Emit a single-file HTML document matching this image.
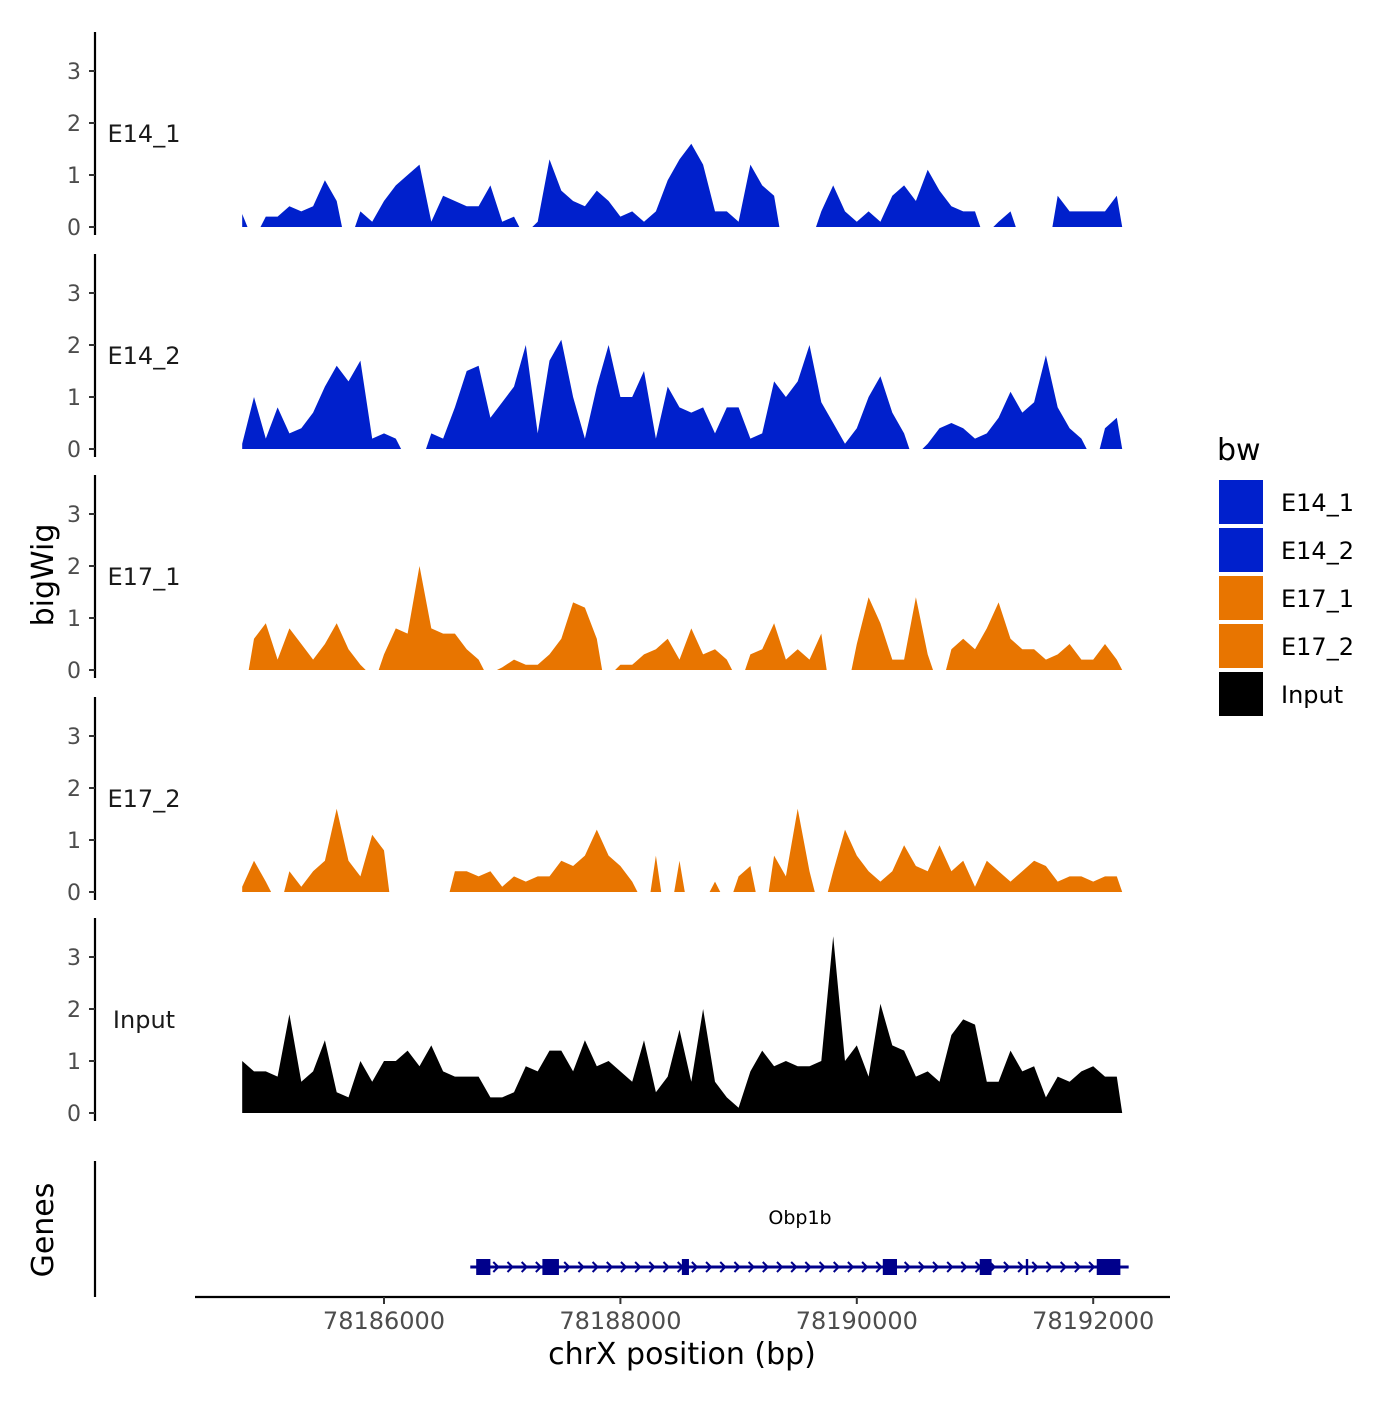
<!DOCTYPE html>
<html><head><meta charset="utf-8"><style>
body{margin:0;background:#fff}
svg text{font-family:"DejaVu Sans","Liberation Sans",sans-serif}
</style></head><body>
<svg id="c" width="1400" height="1400" viewBox="0 0 1400 1400" xmlns="http://www.w3.org/2000/svg"></svg>
<script>
const trackNames=["E14_1","E14_2","E17_1","E17_2","Input"];
const trackColors=["#0020CC","#0020CC","#E87500","#E87500","#000000"];
const bpStart=78184800, bpStep=100;
const xTicks=[78186000,78188000,78190000,78192000];
const yTicks=[0,1,2,3];
const N=null;
const e14_1=[0.25,N,0.2,0.2,0.4,0.3,0.4,0.9,0.5,N,0.3,0.1,0.5,0.8,1.0,1.2,0.1,0.6,0.5,0.4,0.4,0.8,0.1,0.2,N,0.1,1.3,0.7,0.5,0.4,0.7,0.5,0.2,0.3,0.1,0.3,0.9,1.3,1.6,1.2,0.3,0.3,0.1,1.2,0.8,0.6,N,N,N,0.3,0.8,0.3,0.1,0.3,0.1,0.6,0.8,0.5,1.1,0.7,0.4,0.3,0.3,N,0.1,0.3,N,N,N,0.6,0.3,0.3,0.3,0.3,0.6];
const e14_2=[0.1,1.0,0.2,0.8,0.3,0.4,0.7,1.2,1.6,1.3,1.7,0.2,0.3,0.2,N,N,0.3,0.2,0.8,1.5,1.6,0.6,0.9,1.2,2.0,0.3,1.7,2.1,1.0,0.2,1.2,2.0,1.0,1.0,1.5,0.2,1.2,0.8,0.7,0.8,0.3,0.8,0.8,0.2,0.3,1.3,1.0,1.3,2.0,0.9,0.5,0.1,0.4,1.0,1.4,0.7,0.3,N,0.1,0.4,0.5,0.4,0.2,0.3,0.6,1.1,0.7,0.9,1.8,0.8,0.4,0.2,N,0.4,0.6];
const e17_1=[N,0.6,0.9,0.2,0.8,0.5,0.2,0.5,0.9,0.4,0.1,N,0.3,0.8,0.7,2.0,0.8,0.7,0.7,0.4,0.2,N,0.05,0.2,0.1,0.1,0.3,0.6,1.3,1.2,0.6,N,0.1,0.1,0.3,0.4,0.6,0.2,0.8,0.3,0.4,0.2,N,0.3,0.4,0.9,0.2,0.4,0.2,0.7,N,N,0.5,1.4,0.9,0.2,0.2,1.4,0.3,N,0.4,0.6,0.4,0.8,1.3,0.6,0.4,0.4,0.2,0.3,0.5,0.2,0.2,0.5,0.2];
const e17_2=[0.1,0.6,0.2,N,0.4,0.1,0.4,0.6,1.6,0.6,0.3,1.1,0.8,N,N,N,N,N,0.4,0.4,0.3,0.4,0.1,0.3,0.2,0.3,0.3,0.6,0.5,0.7,1.2,0.7,0.5,0.2,N,0.7,N,0.6,N,N,0.2,N,0.3,0.5,N,0.7,0.3,1.6,0.4,N,0.4,1.2,0.7,0.4,0.2,0.4,0.9,0.5,0.4,0.9,0.4,0.6,0.1,0.6,0.4,0.2,0.4,0.6,0.5,0.2,0.3,0.3,0.2,0.3,0.3];
const input=[1.0,0.8,0.8,0.7,1.9,0.6,0.8,1.4,0.4,0.3,1.0,0.6,1.0,1.0,1.2,0.9,1.3,0.8,0.7,0.7,0.7,0.3,0.3,0.4,0.9,0.8,1.2,1.2,0.8,1.4,0.9,1.0,0.8,0.6,1.4,0.4,0.7,1.6,0.6,2.0,0.6,0.3,0.1,0.8,1.2,0.9,1.0,0.9,0.9,1.0,3.4,1.0,1.3,0.7,2.1,1.3,1.2,0.7,0.8,0.6,1.5,1.8,1.7,0.6,0.6,1.2,0.8,0.9,0.3,0.7,0.6,0.8,0.9,0.7,0.7];
const tracks=[e14_1,e14_2,e17_1,e17_2,input];
const exonStarts=[78186780,78187340,78188520,78190220,78191040,78191430,78192030];
const exonEnds=[78186900,78187480,78188580,78190340,78191140,78191450,78192230];
const geneStart=78186730, geneEnd=78192300;

const svg=document.getElementById('c');
const NS="http://www.w3.org/2000/svg";
function xs(bp){return 384+(bp-78186000)*0.1182;}
const zeros=[227,449,670,892,1113];
function ys(v,t){return zeros[t]-v*52;}
function mk(tag,attrs,parent){const e=document.createElementNS(NS,tag);for(const k in attrs)e.setAttribute(k,attrs[k]);(parent||svg).appendChild(e);return e;}
function txt(s,attrs){const e=mk('text',attrs);e.textContent=s;return e;}

tracks.forEach((arr,t)=>{
  const g=mk('g',{});
  
  
  let run=[];
  const flush=()=>{
    if(!run.length)return;
    const a=Math.max(bpStart,run[0][0]-45), b=run[run.length-1][0]+45;
    let d='M'+xs(a).toFixed(1)+','+zeros[t];
    run.forEach(p=>{d+='L'+xs(p[0]).toFixed(1)+','+ys(p[1],t).toFixed(1);});
    d+='L'+xs(b).toFixed(1)+','+zeros[t]+'Z';
    const p=mk('path',{d:d,fill:trackColors[t]},g);
    
    
    run=[];
  };
  arr.forEach((v,i)=>{const bp=bpStart+i*bpStep;if(v===null)flush();else run.push([bp,v]);});
  flush();
  const top=zeros[t]-195, bot=zeros[t]+8;
  const ax=mk('line',{x1:95,y1:top,x2:95,y2:bot,stroke:'#000','stroke-width':2.2});
  
  
  yTicks.forEach(v=>{
    mk('line',{x1:89,y1:ys(v,t),x2:95,y2:ys(v,t),stroke:'#333','stroke-width':2});
    const l=txt(String(v),{x:81,y:ys(v,t)+8,'text-anchor':'end','font-size':22,fill:'#4d4d4d'});
    
    
  });
  const lab=txt(trackNames[t],{x:144,y:zeros[t]-85,'text-anchor':'middle','font-size':24,fill:'#1a1a1a'});
  
  
});

mk('line',{x1:95,y1:1161,x2:95,y2:1297,stroke:'#000','stroke-width':2.2});
const gl=mk('line',{x1:xs(geneStart),y1:1267,x2:xs(geneEnd),y2:1267,stroke:'#00008B','stroke-width':3});


for(let bp=geneStart+100;bp<geneEnd-100;bp+=120){
  const x=xs(bp);
  mk('path',{d:`M${x-3},1262L${x+2},1267L${x-3},1272`,fill:'none',stroke:'#00008B','stroke-width':2});
}
exonStarts.forEach((s,i)=>{
  const r=mk('rect',{x:xs(s),y:1259,width:Math.max(2,xs(exonEnds[i])-xs(s)),height:16,fill:'#00008B'});
  
  
});
txt('Obp1b',{x:800,y:1224,'text-anchor':'middle','font-size':19,fill:'#000'});

mk('line',{x1:195,y1:1297,x2:1170,y2:1297,stroke:'#000','stroke-width':2.2});
xTicks.forEach(v=>{
  mk('line',{x1:xs(v),y1:1297,x2:xs(v),y2:1304,stroke:'#333','stroke-width':2});
  const l=txt(String(v),{x:xs(v),y:1329,'text-anchor':'middle','font-size':24,fill:'#4d4d4d'});
  
  
});
txt('chrX position (bp)',{x:682,y:1364,'text-anchor':'middle','font-size':30,fill:'#000'});
txt('bigWig',{x:0,y:0,'text-anchor':'middle','font-size':30,fill:'#000',transform:'translate(53,575) rotate(-90)'});
txt('Genes',{x:0,y:0,'text-anchor':'middle','font-size':30,fill:'#000',transform:'translate(53,1230) rotate(-90)'});

txt('bw',{x:1217,y:460,'font-size':30,fill:'#000'});
const legNames=["E14_1","E14_2","E17_1","E17_2","Input"];
const legCols=["#0020CC","#0020CC","#E87500","#E87500","#000000"];
legNames.forEach((n,i)=>{
  const y=480+i*48;
  const r=mk('rect',{x:1219,y:y,width:44,height:44,fill:legCols[i]});
  
  
  const t=txt(n,{x:1281,y:y+31,'font-size':24,fill:'#000'});
  
  
});
</script>
</body></html>
